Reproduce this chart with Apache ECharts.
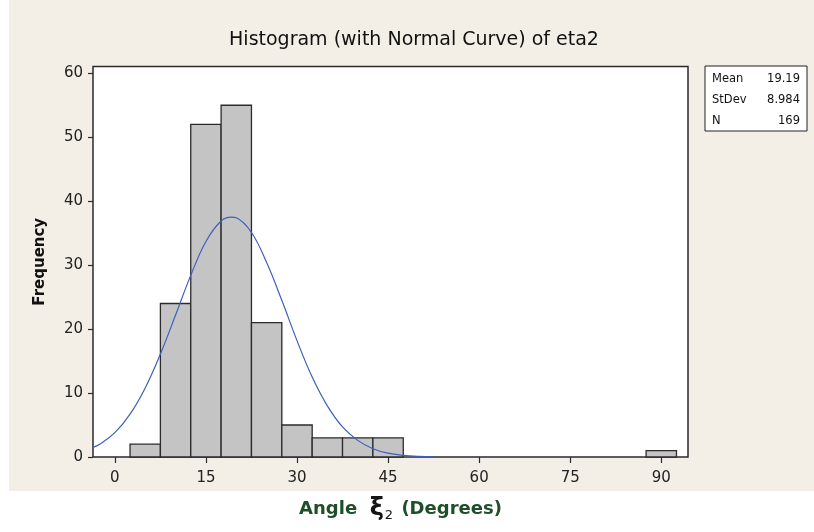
<!DOCTYPE html>
<html>
<head>
<meta charset="utf-8">
<script src="https://cdn.jsdelivr.net/npm/echarts@6/dist/echarts.min.js"></script>
<style>
  html, body { margin: 0; padding: 0; background: #ffffff; }
  #chart {
    width: 814px; height: 532px;
    background: linear-gradient(#f3eee6, #f3eee6) no-repeat 9px 0 / 805px 491px, #ffffff;
  }
</style>
</head>
<body>
<div id="chart"></div>
<script>
// ---- data ----
const binCenters = [5, 10, 15, 20, 25, 30, 35, 40, 45, 50, 55, 60, 65, 70, 75, 80, 85, 90];
const counts     = [2, 24, 52, 55, 21, 5, 3, 3, 3, 0, 0, 0, 0, 0, 0, 0, 0, 1];
const binWidth = 5;

// normal curve
const curveX = [-3.6, -2.5, 0, 2.5, 5, 7.5, 10, 12.5, 15, 17.5, 19.2, 20, 22.5, 25, 27.5, 30, 32.5, 35, 37.5, 40, 42.5, 45, 47.5, 50, 52.7];
const curveY = [1.5, 2.0, 3.8, 6.7, 10.8, 16.1, 22.2, 28.4, 33.7, 36.9, 37.5, 37.4, 35.1, 30.4, 24.5, 18.2, 12.5, 8.0, 4.7, 2.6, 1.3, 0.6, 0.26, 0.1, 0.04];

const xTicks = [0, 15, 30, 45, 60, 75, 90];
const yTicks = [0, 10, 20, 30, 40, 50, 60];

const statLabels = ['Mean', 'StDev', 'N'];
const statValues = ['19.19', '8.984', '169'];

const titleText = 'Histogram (with Normal Curve) of eta2';
const yName = 'Frequency';

// ---- chart ----
const chart = echarts.init(document.getElementById('chart'), null, { renderer: 'canvas' });
const FF = 'DejaVu Sans';

const statGraphics = [{
  type: 'rect',
  shape: { x: 705, y: 66, width: 102, height: 65 },
  style: { fill: '#ffffff', stroke: '#222222', lineWidth: 1 }
}];
statLabels.forEach((lab, i) => {
  const y = 79 + i * 21;
  statGraphics.push({
    type: 'text', x: 712, y: y,
    style: { text: lab, font: '11.5px "DejaVu Sans"', fill: '#111', verticalAlign: 'middle', align: 'left' }
  });
  statGraphics.push({
    type: 'text', x: 800, y: y,
    style: { text: statValues[i], font: '11.5px "DejaVu Sans"', fill: '#111', verticalAlign: 'middle', align: 'right' }
  });
});

const option = {
  animation: false,
  backgroundColor: 'transparent',
  title: {
    text: titleText,
    left: 414, top: 31, padding: 0,
    textAlign: 'center',
    textStyle: { fontFamily: FF, fontSize: 19, fontWeight: 'normal', color: '#111' }
  },
  grid: {
    left: 93, right: 126, top: 66.5, bottom: 75,
    show: true, backgroundColor: '#ffffff',
    borderColor: '#2a2a2a', borderWidth: 1.5
  },
  xAxis: {
    type: 'value',
    min: -3.6, max: 94.4,
    axisLine: { show: false, onZero: false },
    splitLine: { show: false },
    axisTick: { show: true, inside: false, length: 6, lineStyle: { color: '#2a2a2a', width: 1.2 }, customValues: xTicks },
    axisLabel: { margin: 14, fontFamily: FF, fontSize: 15, color: '#222', customValues: xTicks },
    name: '{t|Angle  }{xi|ξ}{sub|2}{t| (Degrees)}',
    nameLocation: 'middle',
    nameGap: 39,
    nameTextStyle: {
      padding: [0, 0, 0, 20],
      rich: {
        t: { fontFamily: FF, fontSize: 18, fontWeight: 'bold', color: '#1f4f2a', lineHeight: 26, verticalAlign: 'middle' },
        xi: { fontFamily: FF, fontSize: 24, fontWeight: 'bold', color: '#151515', lineHeight: 26, verticalAlign: 'middle' },
        sub: { fontFamily: FF, fontSize: 13, color: '#151515', lineHeight: 26, verticalAlign: 'bottom', padding: [0, 2, 0, 1] }
      }
    }
  },
  yAxis: {
    type: 'value',
    min: 0, max: 61.06,
    axisLine: { show: false, onZero: false },
    splitLine: { show: false },
    axisTick: { show: true, inside: false, length: 5, lineStyle: { color: '#2a2a2a', width: 1.2 }, customValues: yTicks },
    axisLabel: { margin: 10, fontFamily: FF, fontSize: 15, color: '#222', customValues: yTicks },
    name: yName,
    nameLocation: 'middle',
    nameGap: 45,
    nameTextStyle: { fontFamily: FF, fontSize: 15, fontWeight: 'bold', color: '#111' }
  },
  series: [
    {
      type: 'custom',
      z: 2,
      data: binCenters.map((c, i) => [c, counts[i]]),
      encode: { x: 0, y: 1 },
      renderItem: function (params, api) {
        const c = api.value(0), v = api.value(1);
        if (!v) return null;
        const p0 = api.coord([c - binWidth / 2, v]);
        const p1 = api.coord([c + binWidth / 2, 0]);
        return {
          type: 'rect',
          shape: { x: p0[0], y: p0[1], width: p1[0] - p0[0], height: p1[1] - p0[1] },
          style: { fill: '#c4c4c4', stroke: '#2b2b2b', lineWidth: 1.3 }
        };
      }
    },
    {
      type: 'line',
      z: 3,
      data: curveX.map((x, i) => [x, curveY[i]]),
      smooth: 0.4,
      showSymbol: false,
      symbol: 'none',
      lineStyle: { color: '#3f5fbf', width: 1.2 }
    }
  ],
  graphic: statGraphics
};
chart.setOption(option);
</script>
</body>
</html>
